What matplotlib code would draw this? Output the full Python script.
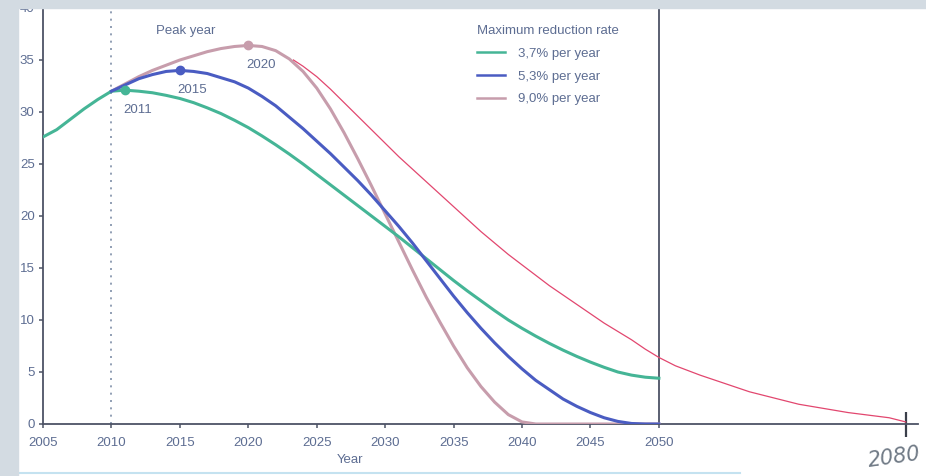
import numpy as np
import matplotlib
matplotlib.use("Agg")
import matplotlib.pyplot as plt
from matplotlib.patches import Rectangle
from matplotlib.lines import Line2D

# ---------------- data ----------------
years_green = list(range(2005, 2051))
green = [27.6, 28.3, 29.3, 30.3, 31.2, 32.0, 32.1, 32.0, 31.85, 31.6,
         31.3, 30.9, 30.4, 29.85, 29.2, 28.5, 27.7, 26.85, 25.95, 25.0,
         24.0, 23.0, 22.0, 21.0, 20.0, 19.0, 18.0, 16.95, 15.9, 14.85,
         13.8, 12.8, 11.85, 10.9, 10.0, 9.2, 8.45, 7.75, 7.1, 6.5,
         5.95, 5.45, 5.0, 4.7, 4.5, 4.4]

years_blue = list(range(2010, 2051))
blue = [32.0, 32.6, 33.2, 33.6, 33.9, 34.0, 33.9, 33.7, 33.3, 32.9,
        32.3, 31.5, 30.6, 29.5, 28.4, 27.2, 26.0, 24.7, 23.4, 22.0,
        20.5, 19.0, 17.4, 15.7, 14.0, 12.3, 10.7, 9.2, 7.8, 6.5,
        5.3, 4.2, 3.3, 2.4, 1.7, 1.1, 0.6, 0.25, 0.05, 0.0, 0.0]

years_pink = list(range(2010, 2051))
pink = [32.0, 32.7, 33.4, 34.0, 34.5, 35.0, 35.4, 35.8, 36.1, 36.3,
        36.4, 36.3, 35.9, 35.1, 33.9, 32.3, 30.3, 28.0, 25.5, 22.9,
        20.2, 17.5, 14.8, 12.2, 9.8, 7.5, 5.4, 3.6, 2.1, 0.9,
        0.2, 0.0, 0.0, 0.0, 0.0, 0.0, 0.0, 0.0, 0.0, 0.0, 0.0]

# hand-drawn red extension
years_red = [2023.3, 2024, 2025, 2026, 2027, 2028, 2029, 2030, 2031, 2032,
             2033, 2034, 2035, 2036, 2037, 2038, 2039, 2040, 2041, 2042,
             2043, 2044, 2045, 2046, 2047, 2048, 2049, 2050, 2052, 2055,
             2058, 2061, 2064, 2067, 2070, 2073, 2076, 2078, 2080]
red = [35.0, 34.4, 33.4, 32.2, 30.9, 29.6, 28.3, 27.0, 25.7, 24.5,
       23.3, 22.1, 20.9, 19.7, 18.5, 17.4, 16.3, 15.3, 14.3, 13.3,
       12.4, 11.5, 10.6, 9.7, 8.9, 8.1, 7.2, 6.4, 5.6, 4.7,
       3.9, 3.1, 2.5, 1.9, 1.5, 1.1, 0.8, 0.6, 0.2]

series_labels = ["3,7% per year", "5,3% per year", "9,0% per year"]
peak_years = [2011, 2015, 2020]
peak_labels = ["2011", "2015", "2020"]
x_ticks = list(range(2005, 2051, 5))
y_ticks = list(range(0, 41, 5))
base_year = 2010
end_year = 2050
hand_year = 2080

# ---------------- style ----------------
c_green = "#45b596"
c_blue = "#4a5cc2"
c_pink = "#c79dac"
c_red = "#e2476f"
c_text = "#5d6d92"
c_axis = "#4d5366"

plt.rcParams["font.family"] = ["Liberation Sans", "DejaVu Sans"]
fs = 9.5

fig = plt.figure(figsize=(9.26, 4.76), dpi=100)
fig.patch.set_facecolor("white")
ax = fig.add_axes([43 / 926, 52 / 476, 875 / 926, 416 / 476])

r = 0.601
def fwd(x):
    x = np.asarray(x, dtype=float)
    return np.where(x <= end_year, x, end_year + (x - end_year) * r)
def inv(x):
    x = np.asarray(x, dtype=float)
    return np.where(x <= end_year, x, end_year + (x - end_year) / r)

ax.set_xscale("function", functions=(fwd, inv))
ax.set_xlim(2005, 2081.5)
ax.set_ylim(0, 40)

ax.axvline(base_year, color="#7f8fa8", lw=1.2, linestyle=(0, (1.2, 3.2)), zorder=1)

l_pink, = ax.plot(years_pink, pink, color=c_pink, lw=2.2, zorder=3,
                  solid_joinstyle="round")
l_green, = ax.plot(years_green, green, color=c_green, lw=2.2, zorder=4,
                   solid_joinstyle="round")
l_blue, = ax.plot(years_blue, blue, color=c_blue, lw=2.2, zorder=5,
                  solid_joinstyle="round")
ax.plot(years_red, red, color=c_red, lw=0.9, zorder=6, clip_on=False)

# peak markers
for yr, lab, yrs, vals, col in [
    (peak_years[0], peak_labels[0], years_green, green, c_green),
    (peak_years[1], peak_labels[1], years_blue, blue, c_blue),
    (peak_years[2], peak_labels[2], years_pink, pink, c_pink),
]:
    v = vals[yrs.index(yr)]
    ax.plot([yr], [v], "o", color=col, ms=6, zorder=7)
    ax.text(yr + 0.9, v - 1.9, lab, color=c_text, fontsize=fs, ha="center", va="center")

ax.text(2015.4, 37.8, "Peak year", color=c_text, fontsize=fs, ha="center", va="center")

# spines
for s in ["left", "bottom", "top"]:
    ax.spines[s].set_color(c_axis)
    ax.spines[s].set_linewidth(1.3)
ax.spines["right"].set_visible(False)
ax.spines["top"].set_bounds(2005, end_year)
ax.axvline(end_year, color=c_axis, lw=1.3, zorder=2)

ax.set_xticks(x_ticks)
ax.set_xticklabels([str(t) for t in x_ticks])
ax.set_xticks([hand_year], minor=True)
ax.set_xticklabels([""], minor=True)
ax.set_yticks(y_ticks)
ax.tick_params(axis="both", which="major", direction="out", length=3, width=1.1,
               color=c_axis, labelcolor=c_text, labelsize=fs, pad=3)
ax.tick_params(axis="x", which="major", pad=6)
ax.tick_params(axis="x", which="minor", direction="inout", length=18, width=1.6,
               color="#3a3f4a")

ax.set_xlabel("Year", color=c_text, fontsize=fs)
ax.xaxis.set_label_coords((350 - 43) / 875, -(460 - 424) / 416)
ax.xaxis.label.set_va("center")

# handwritten annotation
ax.text(2078.6, -3.2, str(hand_year), color="#707a86", fontsize=15,
        style="italic", family="DejaVu Sans", fontweight="light",
        ha="center", va="center", rotation=8, clip_on=False)

leg = ax.legend(handles=[l_green, l_blue, l_pink],
                labels=series_labels, title="Maximum reduction rate",
                loc="upper left", bbox_to_anchor=((477 - 43) / 875, (424 - 25) / 416),
                frameon=False, fontsize=fs, title_fontsize=fs, borderpad=0,
                borderaxespad=0, handlelength=2.1, handletextpad=1.0,
                labelspacing=0.8, alignment="left")
for t in leg.get_texts():
    t.set_color(c_text)
leg.get_title().set_color(c_text)
for h in leg.legend_handles:
    h.set_linewidth(1.8)

# scan background strips
bg = "#d3dbe2"
fig.patches.append(Rectangle((0, 0), 18 / 926, 1, transform=fig.transFigure,
                             color=bg, zorder=20))
fig.patches.append(Rectangle((0, 1 - 8 / 476), 1, 8 / 476, transform=fig.transFigure,
                             color=bg, zorder=20))
fig.lines.append(Line2D([18 / 926, 740 / 926], [3 / 476, 3 / 476],
                        transform=fig.transFigure, color="#c4e2f0", lw=1.5, zorder=20))

fig.savefig("out.png", dpi=100)
